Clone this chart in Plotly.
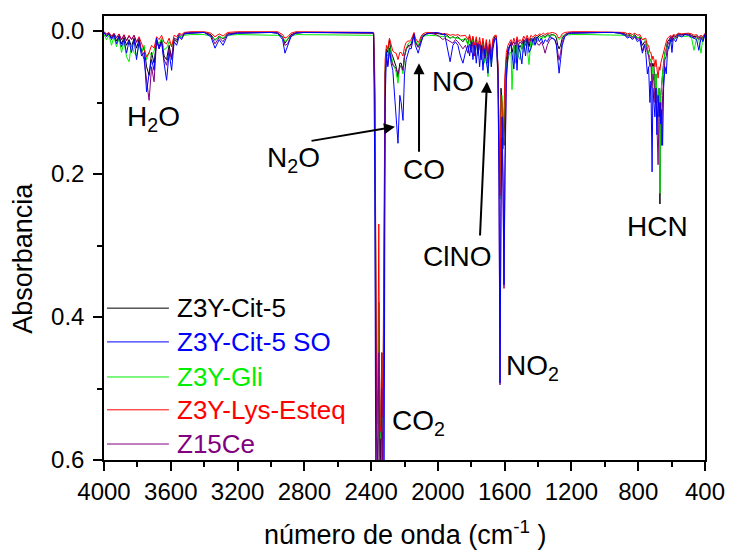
import plotly.graph_objects as go

# Wavenumber sampling (cm-1), high to low
wavenumber = [
    4000, 3985, 3970, 3955, 3940, 3925, 3910, 3895, 3880, 3865, 3850, 3835, 3820, 3805, 3790, 3775, 3760,
    3745, 3730, 3715, 3700, 3685, 3670, 3655, 3640, 3625, 3610, 3595, 3580, 3565, 3550, 3535, 3520, 3500,
    3480, 3400, 3360, 3335, 3310, 3287, 3260, 3200, 3100, 3000, 2960, 2930, 2916, 2900, 2880, 2850, 2800,
    2700, 2600, 2500, 2420, 2392,
    2385, 2378, 2372, 2366, 2360, 2354, 2348, 2342, 2336, 2330, 2322, 2316, 2308,
    2300, 2290, 2280, 2270, 2260, 2250, 2239, 2228, 2220, 2209, 2200, 2190, 2180, 2170, 2160, 2150, 2143,
    2135, 2125, 2118, 2110, 2100, 2090, 2070, 2050, 2030, 2010, 1990, 1970,
    1960, 1945, 1927, 1910, 1895, 1880, 1865, 1850, 1835, 1820, 1810, 1800, 1790, 1780, 1770, 1760, 1750,
    1740, 1730, 1720, 1710, 1700, 1690, 1680, 1670, 1660,
    1650, 1640, 1634, 1628, 1622, 1616, 1610, 1604, 1598, 1590, 1580, 1570,
    1562, 1556, 1545, 1534, 1526, 1518, 1508, 1497, 1486, 1475, 1465, 1454, 1443, 1430, 1418, 1405, 1392,
    1380, 1368, 1358, 1345, 1330, 1315, 1300,
    1290, 1282, 1274, 1265, 1255, 1240, 1220,
    1200, 1100, 1000, 950, 910,
    880, 865, 850, 835, 820, 805, 790, 775, 762,
    755, 745, 738, 730, 724, 717, 712, 706, 700, 694, 688, 681, 675, 670, 665, 660, 654, 648, 640, 632, 625, 615,
    605, 598, 590, 575, 560, 540, 520, 500, 480, 466, 450, 437, 424, 412, 400,
]

abs_cit5 = [
    .003, .006, .004, .010, .005, .014, .007, .018, .009, .020, .012, .022, .010, .024, .012, .030, .022,
    .050, .062, .030, .045, .015, .022, .012, .035, .040, .020, .038, .012, .015, .006, .010, .004, .003,
    .003, .002, .005, .013, .007, .011, .004, .003, .002, .002, .003, .008, .017, .012, .005, .003, .002,
    .002, .002, .003, .003, .003,
    .004, .10, .50, .63, .63, .38, .63, .63, .45, .63, .40, .06, .025,
    .030, .012, .030, .036, .045, .050, .065, .045, .045, .055, .035, .025, .020, .020, .018, .010, .004,
    .015, .020, .022, .018, .010, .006, .004, .003, .003, .003, .004, .005,
    .004, .006, .010, .008, .010, .008, .012, .015, .010, .018, .008, .022, .010, .028, .012, .032, .014,
    .036, .015, .038, .016, .035, .018, .040, .015, .008,
    .008, .050, .150, .200, .080, .100, .140, .160, .070, .040, .025, .020,
    .018, .030, .020, .030, .015, .025, .020, .025, .012, .020, .010, .022, .010, .014, .008, .010, .006,
    .008, .006, .008, .005, .006, .005, .006,
    .010, .020, .025, .020, .010, .005, .003,
    .003, .002, .002, .002, .003,
    .004, .006, .005, .008, .005, .010, .008, .020, .015,
    .015, .025, .030, .040, .040, .050, .045, .050, .080, .060, .090, .100, .080, .242, .090, .070, .060, .045, .030, .025, .015, .012,
    .008, .012, .006, .008, .004, .005, .004, .004, .006, .008, .007, .010, .008, .010, .004,
]

abs_cit5_so = [
    .002, .008, .004, .012, .006, .018, .008, .022, .012, .031, .014, .030, .012, .040, .015, .035, .030,
    .085, .060, .040, .055, .010, .025, .015, .045, .069, .030, .055, .015, .020, .008, .012, .004, .003,
    .003, .002, .008, .024, .012, .020, .006, .003, .002, .002, .003, .012, .031, .022, .008, .003, .002,
    .002, .002, .002, .002, .002,
    .005, .20, .65, .66, .66, .66, .64, .66, .66, .66, .65, .10, .03,
    .050, .024, .045, .055, .090, .110, .157, .090, .100, .125, .060, .040, .030, .024, .025, .015, .005,
    .020, .028, .031, .024, .015, .008, .004, .003, .003, .002, .003, .005,
    .004, .020, .043, .020, .015, .020, .035, .045, .030, .020, .035, .015, .040, .020, .045, .018, .050,
    .020, .055, .025, .045, .059, .020, .050, .025, .012,
    .010, .060, .200, .492, .250, .120, .200, .355, .180, .060, .030, .020,
    .020, .035, .053, .020, .055, .020, .030, .046, .015, .035, .012, .030, .025, .010, .020, .008, .015,
    .010, .018, .012, .015, .008, .010, .012,
    .020, .045, .059, .040, .020, .008, .004,
    .003, .002, .002, .002, .003,
    .006, .010, .008, .012, .008, .015, .012, .031, .020,
    .030, .060, .050, .100, .070, .197, .080, .100, .120, .080, .145, .090, .120, .100, .130, .110, .160, .080, .050, .060, .030, .020,
    .012, .030, .010, .015, .006, .008, .005, .006, .008, .010, .012, .027, .010, .015, .005,
]

abs_gli = [
    .005, .012, .006, .020, .008, .022, .010, .030, .015, .036, .043, .018, .030, .035, .018, .030, .020,
    .040, .030, .034, .028, .012, .018, .010, .026, .024, .015, .022, .010, .012, .007, .009, .006, .005,
    .005, .005, .007, .012, .008, .010, .006, .005, .005, .005, .006, .008, .015, .011, .007, .005, .005,
    .005, .005, .005, .005, .005,
    .006, .08, .45, .57, .55, .38, .56, .57, .50, .56, .30, .05, .03,
    .035, .020, .035, .045, .050, .058, .073, .050, .050, .060, .035, .025, .018, .016, .015, .009, .005,
    .013, .018, .020, .016, .010, .008, .006, .006, .006, .006, .007, .008,
    .007, .008, .010, .008, .010, .010, .012, .012, .010, .020, .010, .025, .012, .030, .014, .035, .015,
    .040, .018, .045, .020, .064, .022, .050, .018, .012,
    .012, .060, .130, .235, .100, .090, .150, .120, .090, .050, .040, .030,
    .030, .082, .020, .045, .015, .035, .040, .015, .030, .012, .025, .047, .012, .020, .010, .015, .008,
    .012, .007, .010, .006, .008, .006, .006,
    .008, .010, .012, .010, .007, .006, .005,
    .005, .005, .005, .005, .005,
    .006, .007, .006, .008, .006, .010, .008, .012, .012,
    .015, .025, .030, .040, .040, .060, .050, .060, .080, .060, .090, .100, .080, .227, .090, .070, .060, .050, .030, .025, .020, .025,
    .012, .015, .010, .010, .007, .008, .007, .007, .010, .027, .010, .012, .031, .008, .006,
]

abs_lys_esteq = [
    .001, .004, .002, .008, .003, .010, .004, .012, .005, .014, .006, .012, .006, .015, .008, .018, .026,
    .036, .030, .020, .024, .008, .012, .006, .016, .018, .010, .022, .006, .008, .003, .005, .002, .001,
    .001, .001, .003, .008, .004, .007, .002, .001, .001, .001, .001, .005, .010, .008, .003, .001, .001,
    .001, .001, .001, .001, .001,
    .002, .06, .40, .55, .50, .27, .55, .56, .45, .54, .25, .04, .02,
    .025, .010, .020, .028, .030, .031, .040, .030, .030, .035, .022, .016, .014, .014, .012, .007, .002,
    .010, .014, .016, .013, .007, .004, .002, .002, .002, .002, .003, .004,
    .004, .004, .006, .005, .006, .005, .007, .007, .006, .012, .005, .016, .007, .020, .008, .022, .009,
    .025, .010, .028, .012, .030, .012, .030, .010, .006,
    .006, .050, .120, .230, .090, .100, .165, .100, .060, .030, .020, .015,
    .012, .020, .010, .018, .008, .015, .012, .015, .007, .012, .006, .014, .006, .009, .005, .007, .004,
    .005, .003, .005, .003, .003, .002, .003,
    .004, .008, .010, .008, .004, .002, .001,
    .001, .001, .001, .001, .001,
    .002, .004, .003, .005, .003, .006, .005, .012, .010,
    .010, .020, .020, .030, .030, .040, .035, .040, .050, .040, .055, .066, .050, .055, .045, .040, .035, .030, .020, .015, .010, .008,
    .006, .010, .005, .006, .003, .004, .003, .003, .004, .006, .005, .008, .006, .008, .003,
]

abs_z15ce = [
    .002, .004, .003, .007, .004, .009, .005, .012, .006, .013, .007, .012, .006, .016, .010, .028, .040,
    .070, .097, .050, .071, .012, .025, .014, .040, .048, .025, .040, .010, .012, .004, .007, .003, .002,
    .002, .002, .006, .018, .009, .015, .004, .002, .002, .002, .002, .009, .020, .018, .006, .002, .002,
    .002, .002, .002, .002, .002,
    .003, .09, .48, .62, .60, .45, .62, .62, .50, .62, .35, .06, .04,
    .048, .030, .040, .048, .050, .052, .060, .050, .048, .055, .035, .026, .022, .022, .020, .012, .004,
    .016, .021, .023, .020, .013, .008, .004, .003, .004, .005, .008, .012,
    .010, .012, .015, .017, .012, .015, .020, .025, .020, .031, .018, .030, .015, .035, .016, .032, .018,
    .040, .020, .038, .020, .045, .020, .040, .018, .010,
    .010, .070, .220, .495, .240, .150, .220, .360, .200, .070, .035, .020,
    .015, .020, .015, .022, .012, .020, .015, .018, .012, .015, .010, .018, .012, .015, .010, .018, .020,
    .015, .022, .031, .020, .012, .010, .012,
    .018, .030, .041, .030, .015, .006, .003,
    .002, .002, .002, .002, .002,
    .005, .008, .006, .010, .007, .012, .010, .028, .018,
    .020, .030, .035, .050, .045, .080, .060, .070, .100, .080, .120, .187, .110, .120, .100, .160, .090, .060, .040, .035, .020, .015,
    .008, .015, .007, .010, .005, .006, .004, .005, .007, .010, .008, .012, .009, .012, .004,
]

series_names = ["Z3Y-Cit-5", "Z3Y-Cit-5 SO", "Z3Y-Gli", "Z3Y-Lys-Esteq", "Z15Ce"]
series_colors = ["#000000", "#0000ff", "#00ee00", "#ff0000", "#800080"]
series_values = [abs_cit5, abs_cit5_so, abs_gli, abs_lys_esteq, abs_z15ce]
# drawing order of the traces (blue spectrum on top)
draw_order = [0, 2, 3, 4, 1]

x_tick_values = [4000, 3600, 3200, 2800, 2400, 2000, 1600, 1200, 800, 400]
y_tick_values = [0.0, 0.2, 0.4, 0.6]
y_tick_labels = ["0.0", "0.2", "0.4", "0.6"]

# Band labels: (text, wavenumber, absorbance)
band_labels = [
    ("H<sub>2</sub>O", 3706, 0.123),
    ("N<sub>2</sub>O", 2862, 0.180),
    ("CO", 2083, 0.194),
    ("NO", 1909, 0.071),
    ("ClNO", 1885, 0.316),
    ("NO<sub>2</sub>", 1436, 0.471),
    ("CO<sub>2</sub>", 2119, 0.548),
    ("HCN", 687, 0.274),
]

# Arrows: (tail wavenumber, tail absorbance, head wavenumber, head absorbance)
band_arrows = [
    (2766, 0.154, 2257, 0.134),
    (2113, 0.171, 2113, 0.045),
    (1748, 0.288, 1706, 0.071),
]

FONT = "Liberation Sans, Arial, sans-serif"

fig = go.Figure()
for i in draw_order:
    values = series_values[i]
    assert len(values) == len(wavenumber)
    fig.add_trace(go.Scatter(
        x=wavenumber, y=values, mode="lines", name=series_names[i],
        line=dict(color=series_colors[i], width=1), showlegend=False,
    ))

annotations = []
for text, wn, a in band_labels:
    annotations.append(dict(
        x=wn, y=a, xref="x", yref="y", text=text, showarrow=False,
        xanchor="center", yanchor="middle", font=dict(family=FONT, size=28, color="black"),
    ))
for tx, ty, hx, hy in band_arrows:
    annotations.append(dict(
        x=hx, y=hy, xref="x", yref="y", ax=tx, ay=ty, axref="x", ayref="y",
        text="", showarrow=True, arrowhead=2, arrowsize=1.1, arrowwidth=2,
        arrowcolor="black", standoff=0, startstandoff=0,
    ))

# Legend drawn inside the plot area
legend_rows = [0.342, 0.266, 0.187, 0.113, 0.036]
shapes = []
for name, color, ry in zip(series_names, series_colors, legend_rows):
    shapes.append(dict(type="line", xref="paper", yref="paper", x0=0.005, x1=0.108,
                       y0=ry, y1=ry, line=dict(color=color, width=1)))
    annotations.append(dict(
        x=0.118, y=ry, xref="paper", yref="paper", text=name, showarrow=False,
        xanchor="left", yanchor="middle", font=dict(family=FONT, size=26, color=color),
    ))

# Axis titles
annotations.append(dict(
    x=0.5, y=-0.164, xref="paper", yref="paper", text="número de onda (cm<sup>-1</sup> )",
    showarrow=False, xanchor="center", yanchor="middle", font=dict(family=FONT, size=27, color="black"),
))
annotations.append(dict(
    x=-0.135, y=0.455, xref="paper", yref="paper", text="Absorbancia", textangle=-90,
    showarrow=False, xanchor="center", yanchor="middle", font=dict(family=FONT, size=27, color="black"),
))

axis_common = dict(
    showline=True, linecolor="black", linewidth=1.5, mirror=True,
    ticks="outside", ticklen=9, tickwidth=1.5, tickcolor="black",
    showgrid=False, zeroline=False, automargin=False,
    tickfont=dict(family=FONT, size=24, color="black"),
)

fig.update_xaxes(
    range=[4000, 400], tickmode="array", tickvals=x_tick_values,
    minor=dict(ticks="outside", dtick=200, tick0=0, ticklen=5, tickwidth=1.5, tickcolor="black", showgrid=False),
    **axis_common,
)
fig.update_yaxes(
    range=[0.6, -0.021], tickmode="array", tickvals=y_tick_values, ticktext=y_tick_labels,
    ticklabelstandoff=4,
    minor=dict(ticks="outside", dtick=0.1, tick0=0, ticklen=5, tickwidth=1.5, tickcolor="black", showgrid=False),
    **axis_common,
)

fig.update_layout(
    width=729, height=551,
    margin=dict(l=104, r=24, t=16, b=91, autoexpand=False),
    plot_bgcolor="white", paper_bgcolor="white",
    showlegend=False,
    annotations=annotations, shapes=shapes,
    font=dict(family=FONT, color="black"),
)

fig.write_html("out.html")
